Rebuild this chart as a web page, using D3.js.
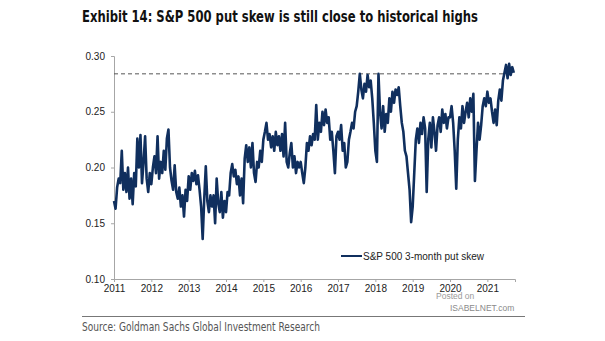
<!DOCTYPE html>
<meta charset="utf-8">
<script src="https://d3js.org/d3.v7.min.js"></script>
<style>
  body { margin: 0; background: #fff; }
</style>

<div id="my_dataviz"></div>

<script>
  // S&P 500 3-month put skew, semi-monthly readings per calendar year
  var skew2011 = [0.170, 0.163, 0.182, 0.190, 0.186, 0.215, 0.180, 0.195, 0.178, 0.200, 0.172, 0.190,
                  0.167, 0.195, 0.183, 0.226, 0.200, 0.229, 0.186, 0.205, 0.228, 0.190, 0.178, 0.195]
  var skew2012 = [0.185, 0.200, 0.210, 0.195, 0.228, 0.190, 0.205, 0.195, 0.215, 0.198, 0.226, 0.234,
                  0.200, 0.188, 0.180, 0.202, 0.178, 0.172, 0.182, 0.165, 0.175, 0.156, 0.180, 0.170]
  var skew2013 = [0.192, 0.180, 0.195, 0.188, 0.197, 0.185, 0.193, 0.180, 0.165, 0.136, 0.172, 0.201,
                  0.170, 0.160, 0.175, 0.165, 0.175, 0.150, 0.190, 0.168, 0.160, 0.178, 0.155, 0.170]
  var skew2014 = [0.160, 0.178, 0.175, 0.195, 0.203, 0.192, 0.198, 0.185, 0.192, 0.175, 0.190, 0.168,
                  0.208, 0.220, 0.205, 0.218, 0.200, 0.222, 0.195, 0.187, 0.205, 0.200, 0.215, 0.205]
  var skew2015 = [0.225, 0.232, 0.240, 0.225, 0.230, 0.218, 0.228, 0.215, 0.232, 0.220, 0.228, 0.215,
                  0.230, 0.210, 0.240, 0.205, 0.200, 0.213, 0.222, 0.200, 0.210, 0.195, 0.205, 0.200]
  var skew2016 = [0.205, 0.195, 0.186, 0.200, 0.222, 0.215, 0.228, 0.220, 0.230, 0.225, 0.256, 0.225,
                  0.240, 0.232, 0.250, 0.238, 0.252, 0.240, 0.245, 0.225, 0.232, 0.215, 0.195, 0.228]
  var skew2017 = [0.232, 0.225, 0.238, 0.215, 0.222, 0.200, 0.205, 0.225, 0.232, 0.240, 0.235, 0.250,
                  0.255, 0.268, 0.284, 0.270, 0.262, 0.275, 0.268, 0.283, 0.272, 0.278, 0.262, 0.240]
  var skew2018 = [0.215, 0.205, 0.284, 0.250, 0.235, 0.255, 0.232, 0.248, 0.240, 0.262, 0.250, 0.268,
                  0.258, 0.270, 0.265, 0.272, 0.255, 0.240, 0.232, 0.215, 0.210, 0.195, 0.180, 0.151]
  var skew2019 = [0.165, 0.195, 0.225, 0.235, 0.222, 0.240, 0.230, 0.245, 0.235, 0.178, 0.225, 0.240,
                  0.218, 0.245, 0.232, 0.215, 0.238, 0.245, 0.232, 0.252, 0.240, 0.248, 0.235, 0.245]
  var skew2020 = [0.245, 0.255, 0.240, 0.215, 0.181, 0.225, 0.245, 0.235, 0.255, 0.240, 0.250, 0.258,
                  0.245, 0.262, 0.250, 0.266, 0.188, 0.215, 0.240, 0.225, 0.238, 0.255, 0.262, 0.255]
  var skew2021 = [0.268, 0.258, 0.262, 0.250, 0.240, 0.252, 0.238, 0.260, 0.270, 0.260, 0.278, 0.285,
                  0.292, 0.280, 0.293, 0.283, 0.290, 0.285]

  var startYear = 2011
  var yearTicks = [2011, 2012, 2013, 2014, 2015, 2016, 2017, 2018, 2019, 2020, 2021]
  var valueTicks = [0.10, 0.15, 0.20, 0.25, 0.30]
  var historicalHigh = 0.284
  var highLineEnd = 2021.45

  var width = 605
  var height = 341
  var margin = { left: 114, right: 90, top: 56, bottom: 62 }

  var data = []
  ;[skew2011, skew2012, skew2013, skew2014, skew2015, skew2016,
    skew2017, skew2018, skew2019, skew2020, skew2021].forEach(function(vals, k) {
    vals.forEach(function(v, i) {
      data.push({ t: startYear + k + i / 24, v: v })
    })
  })

  var svg = d3.select("#my_dataviz")
    .append("svg")
      .attr("width", width)
      .attr("height", height)
      .style("font-family", "'Liberation Sans', Arial, sans-serif")

  var x = d3.scaleLinear()
    .domain([2011, 2021.74])
    .range([margin.left, width - margin.right])

  var y = d3.scaleLinear()
    .domain([0.10, 0.30])
    .range([height - margin.bottom, margin.top])

  // title
  svg.append("text")
    .attr("x", 82)
    .attr("y", 22)
    .attr("textLength", 396)
    .attr("lengthAdjust", "spacingAndGlyphs")
    .style("font-family", "'Liberation Sans Narrow', 'DejaVu Sans Condensed', sans-serif")
    .style("font-weight", "bold")
    .style("font-size", "15.5px")
    .style("fill", "#111")
    .text("Exhibit 14: S&P 500 put skew is still close to historical highs")

  // axes
  var xAxis = svg.append("g")
    .attr("transform", "translate(0," + y(0.10) + ")")
    .call(d3.axisBottom(x).tickValues(yearTicks).tickFormat(d3.format("d")).tickSize(3).tickPadding(3))

  var yAxis = svg.append("g")
    .attr("transform", "translate(" + x(2011) + ",0)")
    .call(d3.axisLeft(y).tickValues(valueTicks).tickFormat(d3.format(".2f")).tickSize(3).tickPadding(6))

  ;[xAxis, yAxis].forEach(function(g) {
    g.select(".domain").attr("stroke", "#a6a6a6")
    g.selectAll(".tick line").attr("stroke", "#a6a6a6")
    g.selectAll(".tick text")
      .style("font-size", "10px")
      .style("font-family", "'Liberation Sans', Arial, sans-serif")
      .attr("fill", "#222")
  })

  // previous high
  svg.append("line")
    .attr("x1", x(2011))
    .attr("x2", x(highLineEnd))
    .attr("y1", y(historicalHigh))
    .attr("y2", y(historicalHigh))
    .attr("stroke", "#555")
    .attr("stroke-width", 1)
    .attr("stroke-dasharray", "4,3")

  // skew series
  var line = d3.line()
    .x(function(d) { return x(d.t) })
    .y(function(d) { return y(d.v) })

  svg.append("path")
    .datum(data)
    .attr("d", line)
    .attr("fill", "none")
    .attr("stroke", "#102f5e")
    .attr("stroke-width", 2.6)
    .attr("stroke-linejoin", "round")

  // legend
  svg.append("line")
    .attr("x1", 341).attr("x2", 362)
    .attr("y1", 256).attr("y2", 256)
    .attr("stroke", "#102f5e")
    .attr("stroke-width", 2)

  svg.append("text")
    .attr("x", 363)
    .attr("y", 259.5)
    .style("font-size", "10px")
    .style("fill", "#222")
    .text("S&P 500 3-month put skew")

  // watermark
  svg.append("text")
    .attr("x", 436)
    .attr("y", 299)
    .style("font-size", "8.5px")
    .style("fill", "#9a9a9a")
    .text("Posted on")

  svg.append("text")
    .attr("x", 450)
    .attr("y", 311)
    .style("font-size", "8.5px")
    .style("fill", "#8a8a8a")
    .text("ISABELNET.com")

  // footer
  svg.append("line")
    .attr("x1", 82).attr("x2", 525)
    .attr("y1", 316.5).attr("y2", 316.5)
    .attr("stroke", "#777")
    .attr("stroke-width", 1)

  svg.append("text")
    .attr("x", 82)
    .attr("y", 331)
    .attr("textLength", 238)
    .attr("lengthAdjust", "spacingAndGlyphs")
    .style("font-family", "'Liberation Sans Narrow', 'DejaVu Sans Condensed', sans-serif")
    .style("font-size", "11.5px")
    .style("fill", "#555")
    .text("Source: Goldman Sachs Global Investment Research")
</script>
